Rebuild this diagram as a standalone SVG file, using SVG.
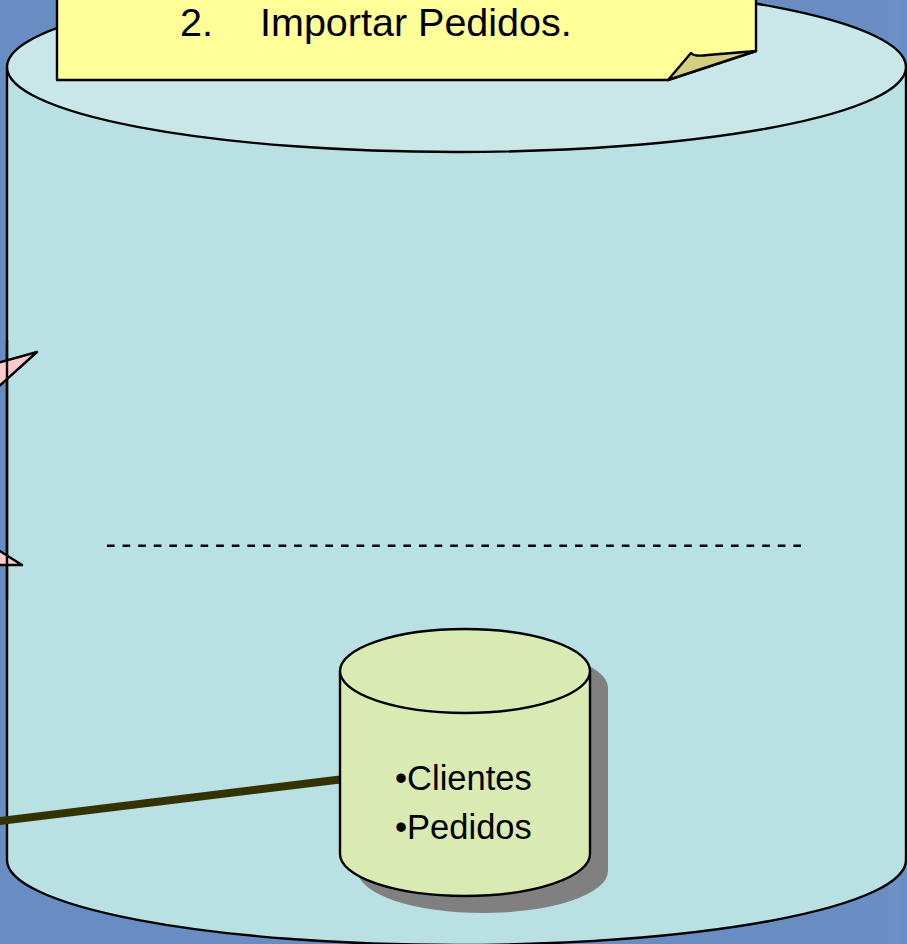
<svg xmlns="http://www.w3.org/2000/svg" width="907" height="944" viewBox="0 0 907 944">
<style>
.ln{stroke:#000;stroke-width:2.4;stroke-linejoin:round}
.big-side{fill:#B9E0E3}
.big-top{fill:#C9E7E9}
.db{fill:#D9EAB3}
.pink{fill:#FFCACA}
.txt{font-family:"Liberation Sans",Arial,sans-serif;fill:#000}
</style>
<rect x="0" y="0" width="907" height="944" fill="#678DC2"/>
<rect x="888" y="0" width="12" height="944" fill="#7396C8" opacity="0.6"/>
<g id="server">
<path class="ln big-side" d="M7,67 L7,860 A449.5,85 0 0 0 906,860 L906,67 Z"/>
<ellipse class="ln big-top" cx="456.5" cy="67" rx="449.5" ry="85"/>
</g>
<g id="note">
<path class="ln" fill="#FFFF99" d="M57,-5 L756,-5 L756,51 L668,80 L57,80 Z"/>
<path class="ln" fill="#D3CF80" d="M668,80 L691,53 Q694,57 708,55 L756,51 Z"/>
<text class="txt" x="180" y="36" font-size="39.5">2.</text>
<text class="txt" x="260" y="36" font-size="39.5">Importar Pedidos.</text>
</g>
<g id="callouts">
<polygon class="ln pink" points="-5,363.5 37,352 -5,390"/>
<polygon class="ln pink" points="-5,548 22,565 -5,565"/>
<line x1="7" y1="340" x2="7" y2="600" stroke="#000" stroke-width="2.4"/>
</g>
<g id="separator">
<line x1="107" y1="545.7" x2="809" y2="545.7" stroke="#000" stroke-width="2.4" stroke-dasharray="7.6,8"/>
</g>
<g id="connectors">
<line x1="-5" y1="821.6" x2="342" y2="779.3" stroke="#333300" stroke-width="8"/>
</g>
<g id="database">
<g transform="translate(18,17)" fill="#808080">
<path d="M340,671 L340,854 A125,42 0 0 0 590,854 L590,671 A125,42 0 0 0 340,671 Z"/>
</g>
<path class="ln db" d="M340,671 L340,854 A125,42 0 0 0 590,854 L590,671 Z"/>
<ellipse class="ln db" cx="465" cy="671" rx="125" ry="42"/>
<text class="txt" x="395" y="790" font-size="34.5">•Clientes</text>
<text class="txt" x="395" y="839" font-size="34.5">•Pedidos</text>
</g>
</svg>
